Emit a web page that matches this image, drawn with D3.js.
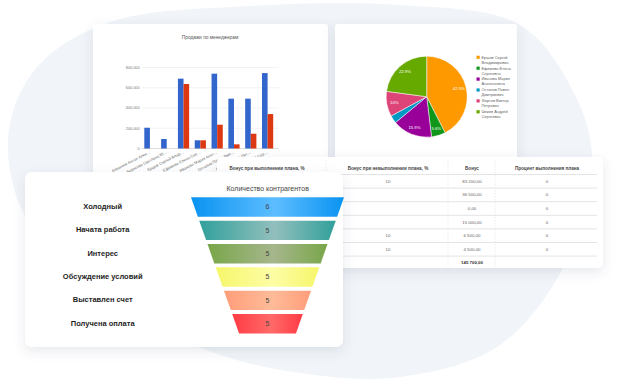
<!DOCTYPE html>
<html>
<head>
<meta charset="utf-8">
<script src="https://cdn.jsdelivr.net/npm/d3@7"></script>
<style>
html, body { margin: 0; padding: 0; background: #fff; }
svg { display: block; font-family: Arial, "Liberation Sans", sans-serif; }
</style>
</head>
<body>
<svg id="chart" width="628" height="387"></svg>
<script>
//////////////////////////////////////
// Data

// bar chart "Продажи по менеджерам"
const managers = ["Алексеев Антон Алек…", "Борисова Светлана Ю…", "Ершов Сергей Влад…", "Ефимова Елена Сер…",
  "Иванова Мария Анат…", "Остапов Павел Дми…", "Фирсов Виктор Пет…", "Чижов Андрей Сер…"];
const salesPlan = [205000, 94000, 690000, 81000, 739000, 492000, 492000, 745000];
const salesFact = [0, 0, 637000, 81000, 235000, 41000, 146000, 340000];
const yTicks = [0, 200000, 400000, 600000, 800000];

// pie
const pieNames = [["Ершов Сергей", "Владимирович"], ["Ефимова Елена", "Сергеевна"], ["Иванова Мария", "Анатольевна"],
  ["Остапов Павел", "Дмитриевич"], ["Фирсов Виктор", "Петрович"], ["Чижов Андрей", "Сергеевич"]];
const pieShares = [42.5, 5.6, 15.9, 3.1, 10, 22.9];
const pieLabels = ["42.5%", "5.6%", "15.9%", "", "10%", "22.9%"];
const pieColors = ["#ff9900", "#109618", "#990099", "#0099c6", "#dd4477", "#66aa00"];

// table
const tableHeaders = ["Бонус при выполнении плана, %", "Бонус при невыполнении плана, %", "Бонус", "Процент выполнения плана"];
const bonusFail = ["10", "", "", "", "10", "10"];
const bonusSum = ["83 200,00", "36 500,00", "0,00", "15 000,00", "6 500,00", "4 500,00"];
const planPercent = ["0", "0", "0", "0", "0", "0"];
const bonusTotal = "145 700,00";

// funnel
const stages = ["Холодный", "Начата работа", "Интерес", "Обсуждение условий", "Выставлен счет", "Получена оплата"];
const stageCounts = [6, 5, 5, 5, 5, 5];
const stageEdge = ["#0a93f1", "#31a09b", "#78a649", "#f6f66a", "#ff9d7a", "#ff3b45"];
const stageMid = ["#5dbdff", "#92bfbd", "#a6b68c", "#fdfda6", "#ffbb98", "#ff6a68"];

//////////////////////////////////////
// Setup

const svg = d3.select("#chart");
const defs = svg.append("defs");

const sh = defs.append("filter").attr("id", "shadow")
  .attr("x", "-20%").attr("y", "-20%").attr("width", "140%").attr("height", "150%");
sh.append("feDropShadow").attr("dx", 0).attr("dy", 4).attr("stdDeviation", 6)
  .attr("flood-color", "#4a5a70").attr("flood-opacity", 0.13);

const soft = defs.append("filter").attr("id", "soft")
  .attr("x", "-10%").attr("y", "-20%").attr("width", "120%").attr("height", "140%");
soft.append("feGaussianBlur").attr("stdDeviation", 0.6);

// background blob
const blobPts = [[250, 6], [400, 5], [520, 25], [575, 95], [592, 160], [567, 260], [500, 345], [400, 377],
  [300, 373], [200, 348], [95, 292], [22, 210], [9, 130], [38, 66], [110, 22]];
svg.append("path")
  .attr("d", d3.line().curve(d3.curveCatmullRomClosed)(blobPts))
  .attr("fill", "#f1f4f8");

function card(x, y, w, h, r) {
  return svg.append("rect").attr("x", x).attr("y", y).attr("width", w).attr("height", h)
    .attr("rx", r).attr("fill", "#fff").attr("filter", "url(#shadow)");
}

//////////////////////////////////////
// Bar chart

card(93, 24, 235, 180, 3);
const bar = svg.append("g");

bar.append("text").attr("x", 210).attr("y", 38.5).attr("text-anchor", "middle")
  .attr("font-size", 4.8).attr("fill", "#555").text("Продажи по менеджерам");

const x0 = d3.scaleBand().domain(managers).range([141.5, 276]);
const x1 = d3.scaleBand().domain(["plan", "fact"]).range([2.8, x0.bandwidth() - 2.8]);
const y = d3.scaleLinear().domain([0, 800000]).range([148.5, 67.5]);

bar.append("g").selectAll("line").data(yTicks).join("line")
  .attr("x1", 142).attr("x2", 279)
  .attr("y1", d => y(d)).attr("y2", d => y(d))
  .attr("stroke", d => d === 0 ? "#cfcfcf" : "#ececec").attr("stroke-width", 0.7);

bar.append("g").selectAll("text").data(yTicks).join("text")
  .attr("x", 139.5).attr("y", d => y(d)).attr("dy", "0.35em")
  .attr("text-anchor", "end").attr("font-size", 3.8).attr("fill", "#777")
  .text(d => d3.format(",")(d));

const groups = bar.append("g").selectAll("g").data(managers).join("g")
  .attr("transform", d => `translate(${x0(d)},0)`);
groups.append("rect")
  .attr("x", x1("plan")).attr("width", x1.bandwidth())
  .attr("y", (d, i) => y(salesPlan[i])).attr("height", (d, i) => y(0) - y(salesPlan[i]))
  .attr("fill", "#3366cc");
groups.append("rect")
  .attr("x", x1("fact")).attr("width", x1.bandwidth())
  .attr("y", (d, i) => y(salesFact[i])).attr("height", (d, i) => y(0) - y(salesFact[i]))
  .attr("fill", "#dc3912");

bar.append("g").selectAll("text").data(managers).join("text")
  .attr("transform", d => `translate(${x0(d) + x0.bandwidth() / 2},152) rotate(-27)`)
  .attr("text-anchor", "end").attr("dy", "0.3em")
  .attr("font-size", 3.9).attr("fill", "#666")
  .text(d => d);

//////////////////////////////////////
// Pie chart

card(335, 24, 182, 140, 3);
const pieG = svg.append("g").attr("transform", "translate(426.7,96.7)");
const pie = d3.pie().sort(null).value(d => d);
const arc = d3.arc().innerRadius(0).outerRadius(40.5);
const labelArc = d3.arc().innerRadius(33).outerRadius(33);
const slices = pie(pieShares);

pieG.selectAll("path").data(slices).join("path")
  .attr("d", arc).attr("fill", (d, i) => pieColors[i])
  .attr("stroke", "#fff").attr("stroke-width", 0.5);
pieG.selectAll("text").data(slices).join("text")
  .attr("transform", d => `translate(${labelArc.centroid(d)})`)
  .attr("text-anchor", "middle").attr("dy", "0.35em")
  .attr("font-size", 4.2).attr("fill", "#fff")
  .text((d, i) => pieLabels[i]);

const legend = svg.append("g").selectAll("g").data(pieNames).join("g")
  .attr("transform", (d, i) => `translate(476.5,${57.3 + i * 10.9})`);
legend.append("rect").attr("x", 0).attr("y", -1.6).attr("width", 3.2).attr("height", 3.2)
  .attr("fill", (d, i) => pieColors[i]);
legend.append("text").attr("x", 5).attr("dy", "0.35em").attr("font-size", 3.9).attr("fill", "#666")
  .text(d => d[0]);
legend.append("text").attr("x", 5).attr("y", 5).attr("dy", "0.35em").attr("font-size", 3.9).attr("fill", "#666")
  .text(d => d[1]);

//////////////////////////////////////
// Table

card(217, 157, 386, 111, 5);
const tbl = svg.append("g");
const colX = [267, 388, 472, 547];
const rowY = d3.scaleLinear().domain([0, 1]).range([174.5, 188.1]);

[326, 448, 495].forEach(function(sx) {
  tbl.append("line").attr("x1", sx).attr("x2", sx).attr("y1", 160).attr("y2", 268)
    .attr("stroke", "#e2e2e2").attr("stroke-width", 0.7).attr("stroke-dasharray", "1.5,1.5");
});

tbl.selectAll(".hline").data(d3.range(7)).join("line").attr("class", "hline")
  .attr("x1", 222).attr("x2", 597)
  .attr("y1", d => rowY(d)).attr("y2", d => rowY(d))
  .attr("stroke", "#e4e4e4").attr("stroke-width", 1);

tbl.selectAll(".head").data(tableHeaders).join("text").attr("class", "head")
  .attr("x", (d, i) => colX[i]).attr("y", 168).attr("dy", "0.35em")
  .attr("text-anchor", "middle").attr("font-size", 4.6).attr("font-weight", "bold").attr("fill", "#444")
  .text(d => d);

const cols = [bonusFail, bonusSum, planPercent];
cols.forEach(function(col, c) {
  tbl.append("g").selectAll("text").data(col).join("text")
    .attr("x", colX[c + 1]).attr("y", (d, i) => rowY(i + 0.5)).attr("dy", "0.35em")
    .attr("text-anchor", "middle").attr("font-size", 4.4).attr("fill", "#666")
    .text(d => d);
});
tbl.append("text").attr("x", colX[2]).attr("y", rowY(6.5)).attr("dy", "0.35em")
  .attr("text-anchor", "middle").attr("font-size", 4.4).attr("font-weight", "bold").attr("fill", "#333")
  .text(bonusTotal);

//////////////////////////////////////
// Funnel

card(25, 172, 318, 175, 7);
const fun = svg.append("g");

fun.append("text").attr("x", 267.7).attr("y", 188.3).attr("dy", "0.35em")
  .attr("text-anchor", "middle").attr("font-size", 7).attr("fill", "#444")
  .text("Количество контрагентов");

const fy = d3.scaleBand().domain(stages).range([197.3, 333.4]).paddingInner(0.169);
const fw = d3.scaleLinear().domain([0, stages.length - 1]).range([153, 70.6]);
const cx = 267.5;
const frac = fy.bandwidth() / fy.step();

stages.forEach(function(s, i) {
  const g = defs.append("linearGradient").attr("id", "fg" + i)
    .attr("x1", "0%").attr("x2", "100%").attr("y1", "0%").attr("y2", "0%");
  g.append("stop").attr("offset", "0%").attr("stop-color", stageEdge[i]);
  g.append("stop").attr("offset", "55%").attr("stop-color", stageMid[i]);
  g.append("stop").attr("offset", "100%").attr("stop-color", stageEdge[i]);
});

fun.selectAll("path").data(stages).join("path")
  .attr("d", function(d, i) {
    const t = fy(d), b = t + fy.bandwidth();
    const wt = fw(i) / 2, wb = fw(i + frac) / 2;
    return `M${cx - wt},${t}L${cx + wt},${t}L${cx + wb},${b}L${cx - wb},${b}Z`;
  })
  .attr("fill", (d, i) => `url(#fg${i})`)
  .attr("filter", "url(#soft)");

fun.selectAll(".val").data(stageCounts).join("text").attr("class", "val")
  .attr("x", cx).attr("y", (d, i) => fy(stages[i]) + fy.bandwidth() / 2).attr("dy", "0.35em")
  .attr("text-anchor", "middle").attr("font-size", 7).attr("fill", "#444")
  .text(d => d);

fun.selectAll(".stage").data(stages).join("text").attr("class", "stage")
  .attr("x", 102.7).attr("y", d => fy(d) + fy.bandwidth() / 2 - 0.5).attr("dy", "0.35em")
  .attr("text-anchor", "middle").attr("font-size", 7.5).attr("font-weight", "bold").attr("fill", "#1e1e1e")
  .text(d => d);
</script>
</body>
</html>
